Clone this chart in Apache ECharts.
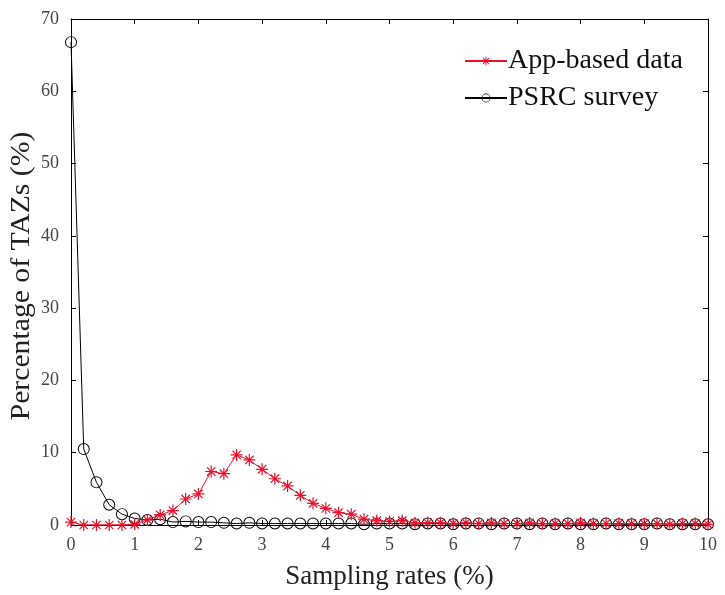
<!DOCTYPE html>
<html>
<head>
<meta charset="utf-8">
<script src="https://cdn.jsdelivr.net/npm/echarts@6/dist/echarts.min.js"></script>
<style>html,body{margin:0;padding:0;background:#fff;}#chart{width:725px;height:595px;}</style>
</head>
<body>
<div id="chart"></div>
<script>
var samplingRates = [0,0.2,0.4,0.6,0.8,1.0,1.2,1.4,1.6,1.8,2.0,2.2,2.4,2.6,2.8,3.0,3.2,3.4,3.6,3.8,4.0,4.2,4.4,4.6,4.8,5.0,5.2,5.4,5.6,5.8,6.0,6.2,6.4,6.6,6.8,7.0,7.2,7.4,7.6,7.8,8.0,8.2,8.4,8.6,8.8,9.0,9.2,9.4,9.6,9.8,10.0];
var appBased = [0.4,0,0,0,0,0.1,0.7,1.4,2.0,3.6,4.3,7.4,7.1,9.7,9.0,7.7,6.4,5.4,4.1,3.0,2.3,1.7,1.5,0.8,0.6,0.5,0.6,0.3,0.3,0.3,0.2,0.3,0.2,0.3,0.2,0.2,0.3,0.2,0.2,0.2,0.3,0.2,0.2,0.2,0.2,0.2,0.2,0.1,0.2,0.2,0.1];
var psrc = [66.8,10.5,5.9,2.8,1.5,0.9,0.7,0.8,0.4,0.5,0.4,0.4,0.3,0.2,0.3,0.2,0.2,0.2,0.2,0.2,0.2,0.2,0.2,0.1,0.2,0.2,0.2,0.1,0.2,0.2,0.1,0.2,0.2,0.1,0.2,0.2,0.1,0.2,0.1,0.2,0.1,0.1,0.2,0.1,0.1,0.1,0.2,0.1,0.1,0.1,0.1];
var xTicks = [0,1,2,3,4,5,6,7,8,9,10];
var yTicks = [0,10,20,30,40,50,60,70];
var xTitle = 'Sampling rates (%)';
var yTitle = 'Percentage of TAZs (%)';

var star = 'path://M-1,-10 L1,-10 L1,10 L-1,10 Z M-10,-1 L10,-1 L10,1 L-10,1 Z M-6.3,-7.7 L7.7,6.3 L6.3,7.7 L-7.7,-6.3 Z M6.3,-7.7 L7.7,-6.3 L-6.3,7.7 L-7.7,6.3 Z';
var ring = 'path://M0,-10 A10,10 0 1,1 0,10 A10,10 0 1,1 0,-10 Z M0,-8.4 A8.4,8.4 0 1,0 0,8.4 A8.4,8.4 0 1,0 0,-8.4 Z';
var font = '"Liberation Serif","Times New Roman",serif';

function pair(xs, ys){ return xs.map(function(x,i){ return [x, ys[i]]; }); }

var chart = echarts.init(document.getElementById('chart'), null, {renderer:'canvas'});
var axisLineStyle = {color:'#000', width:1};
chart.setOption({
  backgroundColor:'#fff',
  animation:false,
  textStyle:{fontFamily:font},
  grid:{left:71, right:17, top:19, bottom:67, show:false},
  legend:{
    orient:'vertical', left:459, top:42, itemGap:9, itemWidth:42, itemHeight:11,
    textStyle:{fontFamily:font, fontSize:28, color:'#111', padding:[0,0,0,-4]},
    data:['App-based data','PSRC survey']
  },
  graphic:[{
    type:'text', x:22, y:276, rotation:Math.PI/2, scaleX:1.1,
    style:{text:yTitle, font:'27px ' + font, fill:'#222', textAlign:'center', textVerticalAlign:'middle'}
  }],
  xAxis:[{
    type:'value', min:xTicks[0], max:xTicks[xTicks.length-1], interval:1,
    name:xTitle, nameLocation:'middle', nameGap:38,
    nameTextStyle:{fontFamily:font, fontSize:27, color:'#222'},
    axisLine:{onZero:false, lineStyle:axisLineStyle},
    axisTick:{inside:true, length:5, lineStyle:axisLineStyle},
    axisLabel:{fontFamily:font, fontSize:18, color:'#444', margin:11},
    splitLine:{show:false}
  },{
    type:'value', position:'top', min:xTicks[0], max:xTicks[xTicks.length-1], interval:1,
    axisLine:{onZero:false, lineStyle:axisLineStyle},
    axisTick:{inside:true, length:5, lineStyle:axisLineStyle},
    axisLabel:{show:false}, splitLine:{show:false}
  }],
  yAxis:[{
    type:'value', min:yTicks[0], max:yTicks[yTicks.length-1], interval:10,
    axisLine:{show:true, onZero:false, lineStyle:axisLineStyle},
    axisTick:{show:true, inside:true, length:5, lineStyle:axisLineStyle},
    axisLabel:{fontFamily:font, fontSize:18, color:'#444', margin:12},
    splitLine:{show:false}
  },{
    type:'value', position:'right', min:yTicks[0], max:yTicks[yTicks.length-1], interval:10,
    axisLine:{show:true, onZero:false, lineStyle:axisLineStyle},
    axisTick:{show:true, inside:true, length:5, lineStyle:axisLineStyle},
    axisLabel:{show:false}, splitLine:{show:false}
  }],
  series:[{
    name:'App-based data', type:'line', data:pair(samplingRates, appBased),
    symbol:star, symbolSize:12, showAllSymbol:true,
    lineStyle:{color:'#e8102a', width:1},
    itemStyle:{color:'#e8102a', borderWidth:0},
    z:3
  },{
    name:'PSRC survey', type:'line', data:pair(samplingRates, psrc),
    symbol:ring, symbolSize:12, showAllSymbol:true,
    lineStyle:{color:'#000', width:1},
    itemStyle:{color:'#000', borderWidth:0},
    z:2
  }]
});
</script>
</body>
</html>
